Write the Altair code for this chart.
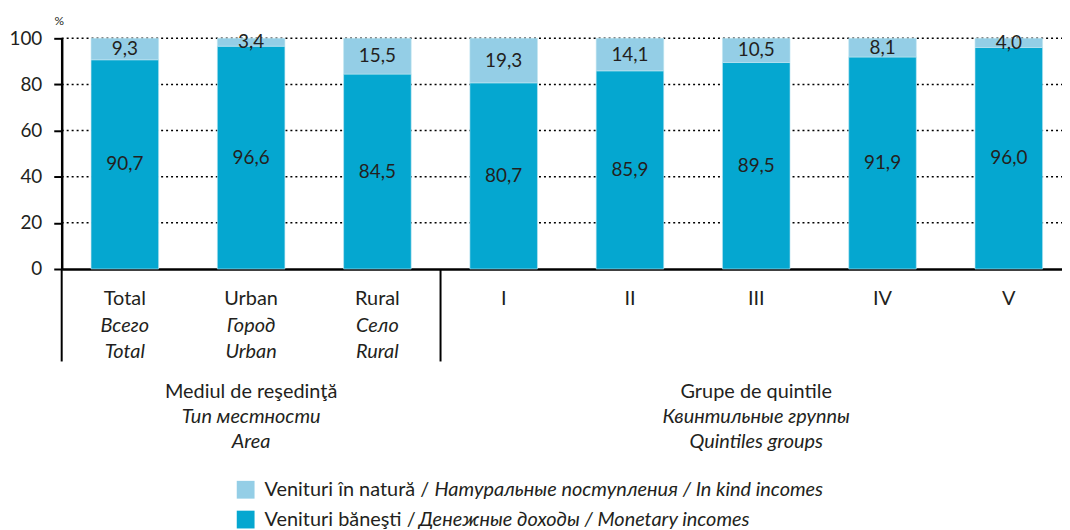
import altair as alt
import pandas as pd

categories = ["Total", "Urban", "Rural", "I", "II", "III", "IV", "V"]
labels_ru = ["Всего", "Город", "Село", "", "", "", "", ""]
labels_en = ["Total", "Urban", "Rural", "", "", "", "", ""]
monetary = [90.7, 96.6, 84.5, 80.7, 85.9, 89.5, 91.9, 96.0]
in_kind = [9.3, 3.4, 15.5, 19.3, 14.1, 10.5, 8.1, 4.0]

series_names = ["Venituri bănești", "Venituri în natură"]
series_colors = ["#05A7D0", "#94CEE6"]

legend_ro = ["Venituri în natură / ", "Venituri băneşti / "]
legend_it = ["Натуральные поступления / In kind incomes", "Денежные доходы / Monetary incomes"]

group_cats = ["Urban", "III"]
group_ro = ["Mediul de reşedinţă", "Grupe de quintile"]
group_ru = ["Тип местности", "Квинтильные группы"]
group_en = ["Area", "Quintiles groups"]

grid_values = [20, 40, 60, 80, 100]

FONT = "Lato"
TXT = "#231F20"
FS = 20

rows = []
for i, c in enumerate(categories):
    rows.append({"cat": c, "series": series_names[0], "value": monetary[i], "order": 0})
    rows.append({"cat": c, "series": series_names[1], "value": in_kind[i], "order": 1})
df = pd.DataFrame(rows)

cat_df = pd.DataFrame({"cat": categories, "ru": labels_ru, "en": labels_en})
grp_df = pd.DataFrame({"cat": group_cats, "ro": group_ro, "ru": group_ru, "en": group_en})
sep_df = pd.DataFrame({"cat": ["Total", "I"]})
grid_df = pd.DataFrame({"g": grid_values})

xscale = alt.Scale(domain=categories, range=[0, 1016], paddingInner=0, paddingOuter=0)
yscale = alt.Scale(domain=[0, 100], nice=False)
cscale = alt.Scale(domain=series_names, range=series_colors)

xaxis = alt.Axis(labels=False, ticks=False, title=None, grid=False,
                 domainColor="black", domainWidth=2.5)
yaxis = alt.Axis(values=[0, 20, 40, 60, 80, 100], title="%", titleAngle=0,
                 titleX=-3, titleY=-18, titleAlign="center", titleBaseline="middle",
                 titleFontSize=12, titleFontWeight="normal", titleColor=TXT,
                 titleFont=FONT,
                 labelFontSize=19, labelColor=TXT, labelFont=FONT, labelPadding=12,
                 tickSize=8, tickWidth=2, tickColor="black",
                 domainColor="black", domainWidth=2.5, grid=False)

X = alt.X("cat:N", sort=categories, scale=xscale, axis=xaxis)

gridlines = alt.Chart(grid_df).mark_rule(color="#000000", strokeWidth=1.5,
                                         strokeDash=[2, 3], opacity=1).encode(
    y=alt.Y("g:Q", scale=yscale, axis=yaxis),
    x=alt.value(0), x2=alt.value(1016))

base = alt.Chart(df).transform_stack(
    stack="value", as_=["y0", "y1"], groupby=["cat"], sort=[alt.SortField("order")]
).transform_calculate(
    mid="(datum.y0 + datum.y1) / 2",
    lbl="replace(format(datum.value, '.1f'), '.', ',')",
)

bars = base.mark_bar(stroke="#BFE6F2", strokeWidth=0.6,
                     width=alt.RelativeBandSize(0.535)).encode(
    x=X,
    y=alt.Y("y0:Q", scale=yscale, axis=yaxis),
    y2="y1:Q",
    color=alt.Color("series:N", scale=cscale, legend=None),
)

vals = base.mark_text(fontSize=19, font=FONT, color=TXT, baseline="middle").encode(
    x=X, y=alt.Y("mid:Q", scale=yscale, axis=yaxis), text="lbl:N"
)

cat1 = alt.Chart(cat_df).mark_text(fontSize=FS, font=FONT, color=TXT, baseline="middle").encode(
    x=X, y=alt.value(262), text="cat:N")
cat2 = alt.Chart(cat_df).mark_text(fontSize=FS, font=FONT, fontStyle="italic", color=TXT,
                                    baseline="middle").encode(x=X, y=alt.value(289), text="ru:N")
cat3 = alt.Chart(cat_df).mark_text(fontSize=FS, font=FONT, fontStyle="italic", color=TXT,
                                    baseline="middle").encode(x=X, y=alt.value(316), text="en:N")

seps = alt.Chart(sep_df).mark_rule(color="black", strokeWidth=2).encode(
    x=alt.X("cat:N", sort=categories, scale=xscale, axis=xaxis, bandPosition=0),
    y=alt.value(232), y2=alt.value(325))

g1 = alt.Chart(grp_df).mark_text(fontSize=FS, font=FONT, color=TXT, baseline="middle").encode(
    x=X, y=alt.value(356), text="ro:N")
g2 = alt.Chart(grp_df).mark_text(fontSize=FS, font=FONT, fontStyle="italic", color=TXT,
                                  baseline="middle").encode(x=X, y=alt.value(381), text="ru:N")
g3 = alt.Chart(grp_df).mark_text(fontSize=FS, font=FONT, fontStyle="italic", color=TXT,
                                  baseline="middle").encode(x=X, y=alt.value(406), text="en:N")

leg_layers = []
leg_y = [454, 484]
leg_it_x = [375, 359]
leg_color_series = [series_names[1], series_names[0]]
for i in range(2):
    ldf = pd.DataFrame({"series": [leg_color_series[i]],
                        "ro": [legend_ro[i]], "it": [legend_it[i]]})
    leg_layers.append(alt.Chart(ldf).mark_square(size=320, opacity=1).encode(
        x=alt.value(185), y=alt.value(leg_y[i]),
        color=alt.Color("series:N", scale=cscale, legend=None)))
    leg_layers.append(alt.Chart(ldf).mark_text(fontSize=FS, font=FONT, color=TXT, align="left",
                                                baseline="middle").encode(
        x=alt.value(204), y=alt.value(leg_y[i]), text="ro:N"))
    leg_layers.append(alt.Chart(ldf).mark_text(fontSize=FS, font=FONT, fontStyle="italic",
                                                color=TXT, align="left", baseline="middle").encode(
        x=alt.value(leg_it_x[i]), y=alt.value(leg_y[i]), text="it:N"))

chart = alt.layer(gridlines, bars, vals, cat1, cat2, cat3, seps, g1, g2, g3,
                  *leg_layers).properties(
    width=1006, height=232,
    autosize=alt.AutoSizeParams(type="none"),
    padding={"left": 54, "top": 29, "right": 0, "bottom": 261},
).configure(font=FONT).configure_view(stroke=None)

chart.save("out.html", embed_options={"renderer": "svg", "actions": False})
